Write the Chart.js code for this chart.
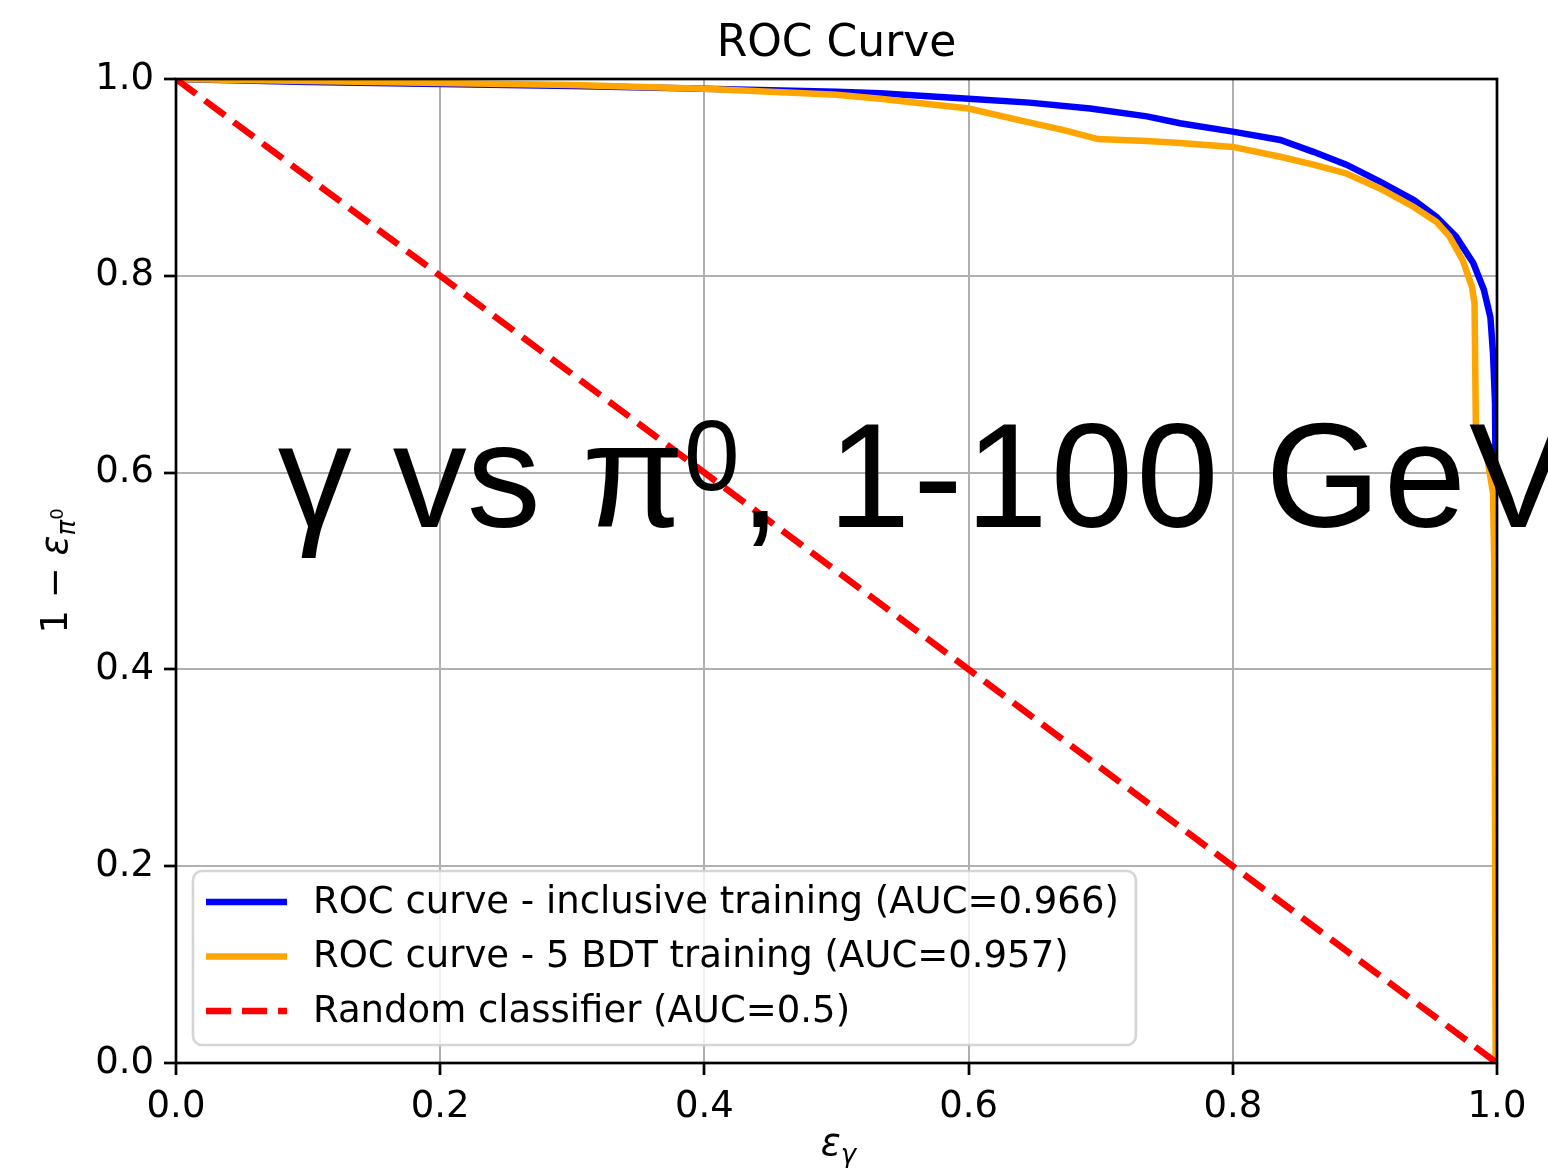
<!DOCTYPE html>
<html>
<head>
<meta charset="utf-8">
<script src="https://cdn.jsdelivr.net/npm/chart.js@4.4.1/dist/chart.umd.min.js"></script>
<style>
  html, body { margin: 0; padding: 0; background: #fff; }
</style>
</head>
<body>
<canvas id="roc" width="1548" height="1168"></canvas>
<script>
// ---- data ----
const inclusiveX = [0, 0.1, 0.2, 0.3, 0.4, 0.5, 0.533, 0.6, 0.646, 0.692, 0.735, 0.76, 0.8, 0.836, 0.861, 0.886, 0.911, 0.937, 0.954, 0.969, 0.982, 0.990, 0.995, 0.997, 0.9985, 0.999, 0.9995, 1.0];
const inclusiveY = [1.0, 0.997, 0.995, 0.993, 0.990, 0.987, 0.9855, 0.980, 0.976, 0.970, 0.962, 0.955, 0.9465, 0.938, 0.926, 0.913, 0.896, 0.877, 0.860, 0.840, 0.813, 0.786, 0.758, 0.721, 0.671, 0.586, 0.50, 0.0];

const bdt5X = [0, 0.1, 0.2, 0.3, 0.4, 0.5, 0.533, 0.6, 0.639, 0.672, 0.698, 0.735, 0.76, 0.8, 0.836, 0.861, 0.886, 0.911, 0.937, 0.954, 0.964, 0.974, 0.981, 0.983, 0.984, 0.992, 0.997, 0.998, 0.999];
const bdt5Y = [1.0, 0.998, 0.996, 0.994, 0.990, 0.984, 0.980, 0.970, 0.958, 0.948, 0.939, 0.937, 0.935, 0.931, 0.921, 0.913, 0.904, 0.889, 0.870, 0.855, 0.840, 0.816, 0.789, 0.772, 0.647, 0.620, 0.579, 0.50, 0.0];

const randomX = [0, 1];
const randomY = [1, 0];

const seriesLabels = [
  "ROC curve - inclusive training (AUC=0.966)",
  "ROC curve - 5 BDT training (AUC=0.957)",
  "Random classifier (AUC=0.5)"
];
const tickValues = [0, 0.2, 0.4, 0.6, 0.8, 1.0];

const FONT = "DejaVu Sans";
const FS = 37;
const toPoints = (xs, ys) => xs.map((x, i) => ({ x, y: ys[i] }));

// draw a sequence of text runs (font / vertical shift) centred on (cx, baseline)
function drawRuns(ctx, runs, cx, baseY) {
  let total = 0;
  runs.forEach(r => { ctx.font = r.font; r.w = ctx.measureText(r.text).width; total += r.w; });
  let x = cx - total / 2;
  ctx.textAlign = "left";
  ctx.textBaseline = "alphabetic";
  runs.forEach(r => { ctx.font = r.font; ctx.fillText(r.text, x, baseY + (r.dy || 0)); x += r.w; });
}

const decor = {
  id: "decor",
  afterDatasetsDraw(chart) {
    const { ctx, chartArea: a, scales } = chart;
    const xs = scales.x, ys = scales.y;
    ctx.save();
    // big annotation
    ctx.fillStyle = "#000";
    ctx.textAlign = "left";
    ctx.textBaseline = "alphabetic";
    let tx = xs.getPixelForValue(0.077);
    const ty = ys.getPixelForValue(0.545);
    ctx.font = "148px 'Liberation Sans'";
    ctx.fillText("\u03b3 vs \u03c0", tx, ty);
    tx += ctx.measureText("\u03b3 vs \u03c0").width;
    ctx.font = "100px 'Liberation Sans'";
    ctx.fillText("0", tx, ty - 37);
    tx += ctx.measureText("0").width;
    ctx.font = "148px 'Liberation Sans'";
    ctx.letterSpacing = "3px";
    ctx.fillText(", 1-100 GeV", tx, ty);
    ctx.letterSpacing = "0px";

    // frame (spines)
    ctx.strokeStyle = "#000";
    ctx.lineWidth = 2.7;
    ctx.strokeRect(a.left, a.top, a.right - a.left, a.bottom - a.top);
    ctx.restore();
  },
  afterDraw(chart) {
    const { ctx, chartArea: a } = chart;
    ctx.save();
    ctx.fillStyle = "#000";
    const cx = (a.left + a.right) / 2;

    // title
    ctx.font = `44px '${FONT}'`;
    ctx.textAlign = "center";
    ctx.textBaseline = "alphabetic";
    ctx.fillText("ROC Curve", cx, 56);

    // x label: epsilon_gamma
    drawRuns(ctx, [
      { text: "\u03b5", font: `italic ${FS}px '${FONT}'` },
      { text: "\u03b3", font: `italic 26px '${FONT}'`, dy: 8 }
    ], cx + 2, 1155);

    // y label: 1 - epsilon_{pi^0}
    ctx.save();
    ctx.translate(67, (a.top + a.bottom) / 2);
    ctx.rotate(-Math.PI / 2);
    drawRuns(ctx, [
      { text: "1 \u2212 ", font: `${FS}px '${FONT}'` },
      { text: "\u03b5", font: `italic ${FS}px '${FONT}'` },
      { text: "\u03c0", font: `italic 26px '${FONT}'`, dy: 8 },
      { text: "0", font: `18px '${FONT}'`, dy: -4 }
    ], 0, 0);
    ctx.restore();

    // legend
    const ds = chart.data.datasets;
    const bx = 193, by = 871, rowH = 54.5, textX = 313;
    ctx.font = `${FS}px '${FONT}'`;
    let maxW = 0;
    ds.forEach(d => { maxW = Math.max(maxW, ctx.measureText(d.label).width); });
    const bw = textX + maxW + 17 - bx, bh = 174;
    ctx.beginPath();
    ctx.roundRect(bx, by, bw, bh, 9);
    ctx.fillStyle = "rgba(255,255,255,0.8)";
    ctx.fill();
    ctx.strokeStyle = "rgba(204,204,204,0.8)";
    ctx.lineWidth = 2.7;
    ctx.stroke();
    ds.forEach((d, i) => {
      const yy = by + 31 + i * rowH;
      ctx.beginPath();
      ctx.strokeStyle = d.borderColor;
      ctx.lineWidth = d.borderWidth;
      ctx.setLineDash(d.borderDash || []);
      ctx.moveTo(206, yy);
      ctx.lineTo(287, yy);
      ctx.stroke();
      ctx.setLineDash([]);
      ctx.fillStyle = "#000";
      ctx.textAlign = "left";
      ctx.textBaseline = "middle";
      ctx.fillText(d.label, textX, yy + 1);
    });
    ctx.restore();
  }
};

const axisCommon = {
  type: "linear",
  min: 0,
  max: 1,
  afterBuildTicks: s => { s.ticks = tickValues.map(v => ({ value: v })); },
  grid: {
    color: "#b0b0b0",
    lineWidth: 2,
    tickLength: 12,
    tickColor: "#000",
    tickWidth: 2.7
  },
  border: { display: false },
  ticks: {
    color: "#000",
    font: { family: FONT, size: FS },
    padding: 10,
    maxRotation: 0,
    autoSkip: false,
    callback: v => Number(v).toFixed(1)
  }
};

new Chart(document.getElementById("roc"), {
  type: "scatter",
  data: {
    datasets: [
      { label: seriesLabels[0], data: toPoints(inclusiveX, inclusiveY), borderColor: "#0000ff", borderWidth: 6.5, order: 3 },
      { label: seriesLabels[1], data: toPoints(bdt5X, bdt5Y), borderColor: "#ffa500", borderWidth: 6.5, order: 2 },
      { label: seriesLabels[2], data: toPoints(randomX, randomY), borderColor: "#ff0000", borderWidth: 6.5, borderDash: [25, 11], order: 1 }
    ].map(d => Object.assign(d, { showLine: true, pointRadius: 0, fill: false, tension: 0 }))
  },
  options: {
    responsive: false,
    animation: false,
    devicePixelRatio: 1,
    layout: { padding: { top: 79, right: 51, bottom: 0, left: 0 } },
    plugins: { legend: { display: false }, title: { display: false }, tooltip: { enabled: false } },
    scales: {
      x: Object.assign({}, axisCommon, {
        position: "bottom",
        afterFit: s => { s.height = 105; s.paddingLeft = 0; s.paddingRight = 0; }
      }),
      y: Object.assign({}, axisCommon, {
        position: "left",
        afterFit: s => { s.width = 176; s.paddingTop = 0; s.paddingBottom = 0; }
      })
    }
  },
  plugins: [decor]
});
</script>
</body>
</html>
